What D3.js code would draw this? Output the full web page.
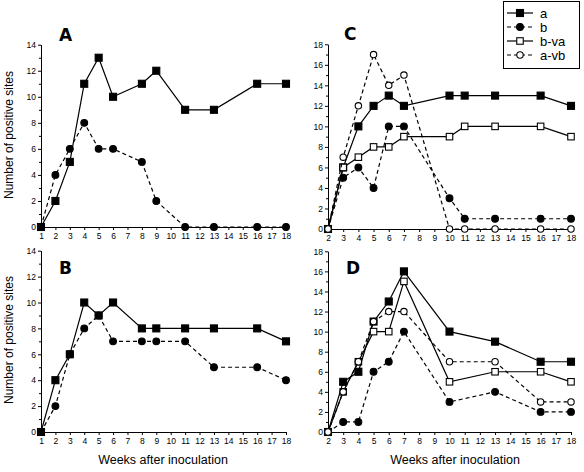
<!DOCTYPE html>
<html><head><meta charset="utf-8">
<script src="https://cdn.jsdelivr.net/npm/d3@7"></script>
<style>body{margin:0;background:#fff}svg{display:block;font-family:"Liberation Sans",Arial,sans-serif}</style>
</head><body><svg id="c" width="584" height="472"></svg>
<script>
// ---- data ----
const weeksLeft = [1,2,3,4,5,6,8,9,11,13,16,18];
const A_a = [0,2,5,11,13,10,11,12,9,9,11,11];
const A_b = [0,4,6,8,6,6,5,2,0,0,0,0];
const B_a = [0,4,6,10,9,10,8,8,8,8,8,7];
const B_b = [0,2,6,8,9,7,7,7,7,5,5,4];

const weeksC = [2,3,4,5,6,7,10,11,13,16,18];
const C_a   = [0,6,10,12,13,12,13,13,13,13,12];
const C_b   = [0,5,6,4,10,10,3,1,1,1,1];
const C_bva = [0,6,7,8,8,9,9,10,10,10,9];
const C_avb = [0,7,12,17,14,15,0,0,0,0,0];

const weeksD = [2,3,4,5,6,7,10,13,16,18];
const D_a   = [0,5,6,11,13,16,10,9,7,7];
const D_b   = [0,1,1,6,7,10,3,4,2,2];
const D_bva = [0,4,7,10,10,15,5,6,6,5];
const D_avb = [0,4,7,11,12,12,7,7,3,3];

const ticksLeft = d3.range(1,19);
const ticksRight = d3.range(2,19);
const seriesNames = ["a","b","b-va","a-vb"];

const styles = {
  "a":    {dash:null, marker:"square", fill:"#000"},
  "b":    {dash:"4,3", marker:"circle", fill:"#000"},
  "b-va": {dash:null, marker:"square", fill:"#fff"},
  "a-vb": {dash:"4,3", marker:"circle", fill:"#fff"}
};

const svg = d3.select("#c");

function marker(sel, st, cx, cy){
  if(st.marker==="square"){
    const sz = st.fill==="#000"?7:6.5;
    sel.append("rect").attr("x",cx-sz/2).attr("y",cy-sz/2).attr("width",sz).attr("height",sz)
      .attr("fill",st.fill).attr("stroke","#000").attr("stroke-width",1.1);
  } else {
    sel.append("circle").attr("cx",cx).attr("cy",cy).attr("r",st.fill==="#000"?3.4:3.2)
      .attr("fill",st.fill).attr("stroke","#000").attr("stroke-width",1.1);
  }
}

function panel(cfg){
  const g = svg.append("g");
  const x = d3.scaleLinear().domain(cfg.xdom).range(cfg.xr);
  const y = d3.scaleLinear().domain([0,cfg.ymax]).range(cfg.yr);
  g.append("g").attr("transform",`translate(${cfg.xr[0]},0)`)
    .call(d3.axisLeft(y).tickValues(d3.range(0,cfg.ymax+1,2)).tickSize(3).tickSizeOuter(0).tickPadding(2));
  g.append("g").attr("transform",`translate(${cfg.xr[0]},0)`)
    .call(d3.axisLeft(y).tickValues(d3.range(1,cfg.ymax,2)).tickSize(2).tickFormat("").tickSizeOuter(0));
  g.append("g").attr("transform",`translate(0,${cfg.yr[0]})`)
    .call(d3.axisBottom(x).tickValues(cfg.ticks).tickSize(3).tickSizeOuter(0).tickPadding(3));
  g.selectAll(".tick text").attr("font-size","8.5px").attr("font-family","Liberation Sans, Arial, sans-serif").attr("fill","#000");
  g.selectAll(".domain, .tick line").attr("stroke","#000");
  cfg.series.forEach(s=>{
    const st = styles[s.name];
    const pts = cfg.weeks.map((w,i)=>[w,s.values[i]]);
    g.append("path").datum(pts)
      .attr("fill","none").attr("stroke","#000").attr("stroke-width",1.2)
      .attr("stroke-dasharray",st.dash)
      .attr("d", d3.line().x(d=>x(d[0])).y(d=>y(d[1])));
    pts.forEach(d=>marker(g, st, x(d[0]), y(d[1])));
  });
  g.append("text").attr("x",cfg.letter[0]).attr("y",cfg.letter[1])
    .attr("font-size","17px").attr("font-weight","bold")
    .attr("font-family","DejaVu Sans, sans-serif").text(cfg.label);
}

panel({xdom:[1,18], xr:[41,286], ymax:14, yr:[227,44.7], ticks:ticksLeft, weeks:weeksLeft,
  series:[{name:"a",values:A_a},{name:"b",values:A_b}], label:"A", letter:[59,41]});
panel({xdom:[1,18], xr:[41,286], ymax:14, yr:[432,250.7], ticks:ticksLeft, weeks:weeksLeft,
  series:[{name:"a",values:B_a},{name:"b",values:B_b}], label:"B", letter:[59,274]});
panel({xdom:[2,18], xr:[328,571], ymax:18, yr:[229,44.3], ticks:ticksRight, weeks:weeksC,
  series:[{name:"a",values:C_a},{name:"b",values:C_b},{name:"b-va",values:C_bva},{name:"a-vb",values:C_avb}],
  label:"C", letter:[344,40]});
panel({xdom:[2,18], xr:[328,571], ymax:18, yr:[432,251.3], ticks:ticksRight, weeks:weeksD,
  series:[{name:"a",values:D_a},{name:"b",values:D_b},{name:"b-va",values:D_bva},{name:"a-vb",values:D_avb}],
  label:"D", letter:[346,274]});

[135,340].forEach(cy=>{
  svg.append("text").attr("transform",`translate(13,${cy}) rotate(-90)`)
    .attr("text-anchor","middle").attr("font-size","12px").text("Number of positive sites");
});
[163,455].forEach(cx=>{
  svg.append("text").attr("x",cx).attr("y",464).attr("text-anchor","middle")
    .attr("font-size","12.5px").text("Weeks after inoculation");
});

const lg = svg.append("g");
lg.append("rect").attr("x",503.5).attr("y",1.5).attr("width",76).attr("height",67)
  .attr("fill","#fff").attr("stroke","#000").attr("stroke-width",1);
const ly = d3.scalePoint().domain(seriesNames).range([13,55]);
seriesNames.forEach(n=>{
  const st = styles[n], yy = ly(n);
  lg.append("line").attr("x1",507).attr("x2",533).attr("y1",yy).attr("y2",yy)
    .attr("stroke","#000").attr("stroke-width",1.2).attr("stroke-dasharray",st.dash);
  marker(lg, st, 520, yy);
  lg.append("text").attr("x",540).attr("y",yy+4.5).attr("font-size","13px").text(n);
});
</script></body></html>
